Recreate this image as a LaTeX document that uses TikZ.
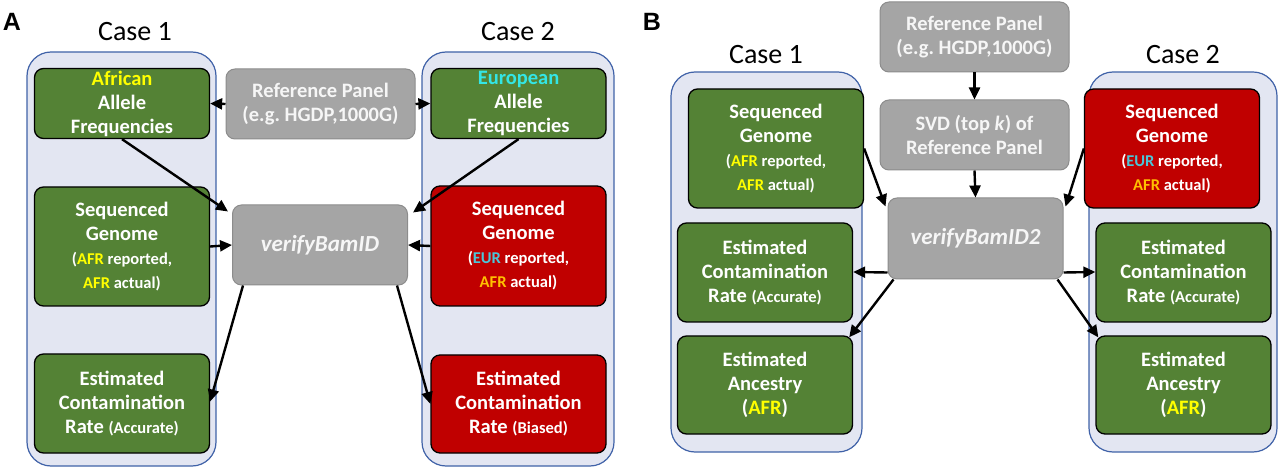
\documentclass[tikz,border=0pt]{standalone}
\usepackage{fontspec}
\setmainfont{Carlito}
\newfontfamily\labfont{Liberation Sans}
\usetikzlibrary{arrows.meta,calc}
\definecolor{gfill}{HTML}{548235}
\definecolor{rfill}{HTML}{C00000}
\definecolor{grayfill}{HTML}{A5A5A5}
\definecolor{grayline}{HTML}{8C8C8C}
\definecolor{contfill}{HTML}{E3E6F2}
\definecolor{contline}{HTML}{4062A8}
\definecolor{yel}{HTML}{FFFF00}
\definecolor{orng}{HTML}{FFC000}
\definecolor{turq}{HTML}{33E6E6}
\definecolor{eurc}{HTML}{4BC6D9}
\definecolor{softwhite}{HTML}{F6F6F6}
\newcommand\smtxt{\fontsize{16.5}{19}\selectfont}
\begin{document}
\begin{tikzpicture}[x=1pt,y=-1pt,
  box/.style={rounded corners=9pt, draw=black, line width=1.3pt, text=white,
    font=\bfseries\fontsize{20.5}{24}\selectfont\frenchspacing, align=flush center, inner sep=0pt, text width=175pt},
  gbox/.style={box, fill=gfill},
  rbox/.style={box, fill=rfill},
  graybox/.style={box, fill=grayfill, draw=grayline, line width=1pt, text=softwhite},
  vbox/.style={graybox, font=\bfseries\itshape\fontsize{23}{26}\selectfont},
  cont/.style={rounded corners=24pt, draw=contline, line width=1.2pt, fill=contfill},
  casetxt/.style={font=\fontsize{28}{32}\selectfont, inner sep=0pt},
  panel/.style={font=\labfont\bfseries\fontsize{25}{28}\selectfont, inner sep=0pt},
  arr/.style={-{Triangle[length=12pt,width=11pt]}, line width=2.4pt, black}
]
\useasboundingbox (0,0) rectangle (1280,470);

% ---------------- Panel A ----------------
\node[panel] (labA) at (12,22) {A};
\node[casetxt] (caseA1) at (135,32) {Case 1};
\node[casetxt] (caseA2) at (518,32) {Case 2};
\node[cont, minimum width=189pt, minimum height=414pt] (cA1) at (121.5,259) {};
\node[cont, minimum width=192pt, minimum height=414pt] (cA2) at (518,259) {};

\node[gbox, minimum width=140pt, minimum height=70pt] (afa) at (122,103.5)
  {\textcolor{yel}{African}\\Allele\\Frequencies};
\node[graybox, minimum width=189pt, minimum height=70pt] (refA) at (320.5,104)
  {Reference Panel\\(e.g. HGDP,1000G)};
\node[gbox, minimum width=139pt, minimum height=70pt] (eur) at (518.5,103.5)
  {\textcolor{turq}{European}\\Allele\\Frequencies};

\node[gbox, minimum width=140pt, minimum height=119pt] (seqA1) at (122,246.5)
  {Sequenced\\Genome\\[5pt]\smtxt(\textcolor{yel}{AFR} reported,\\\textcolor{yel}{AFR} actual)};
\node[vbox, minimum width=150pt, minimum height=80pt] (vbA) at (320,245) {verifyBamID};
\node[rbox, minimum width=139pt, minimum height=120pt] (seqA2) at (518.5,246)
  {Sequenced\\Genome\\[5pt]\smtxt(\textcolor{eurc}{EUR} reported,\\\textcolor{orng}{AFR} actual)};

\node[gbox, minimum width=162pt, minimum height=99pt] (estA1) at (122,403.5)
  {Estimated\\Contamination\\Rate {\smtxt(Accurate)}};
\node[rbox, minimum width=163pt, minimum height=98pt] (estA2) at (518.5,404)
  {Estimated\\Contamination\\Rate {\smtxt(Biased)}};

\draw[arr] (refA.west) -- (afa.east);
\draw[arr] (refA.east) -- (eur.west);
\draw[arr] (afa.south) -- ($(vbA.north west)+(-4,7)$);
\draw[arr] (eur.south) -- ($(vbA.north east)+(5,8)$);
\draw[arr] (seqA1.east) -- (vbA.west);
\draw[arr] (seqA2.west) -- (vbA.east);
\draw[arr] ($(vbA.south west)+(11,0)$) -- ($(estA1.east)+(0,-2)$);
\draw[arr] ($(vbA.south east)+(-11,0)$) -- (estA2.west);

% ---------------- Panel B ----------------
\node[panel] (labB) at (652,22) {B};
\node[casetxt] (caseB1) at (766,55) {Case 1};
\node[casetxt] (caseB2) at (1183,55) {Case 2};
\node[cont, minimum width=191pt, minimum height=380pt] (cB1) at (766.5,262) {};
\node[cont, minimum width=188pt, minimum height=380pt] (cB2) at (1183,262) {};

\node[graybox, minimum width=189pt, minimum height=70pt] (refB) at (974.5,37)
  {Reference Panel\\(e.g. HGDP,1000G)};
\node[graybox, minimum width=189pt, minimum height=70pt] (svd) at (974.5,135)
  {SVD (top \textit{k}) of\\Reference Panel};
\node[vbox, minimum width=165pt, minimum height=81pt] (vbB) at (975.5,238.5) {verifyBamID2};

\node[gbox, minimum width=140pt, minimum height=119pt] (seqB1) at (776,148.5)
  {Sequenced\\Genome\\[5pt]\smtxt(\textcolor{yel}{AFR} reported,\\\textcolor{yel}{AFR} actual)};
\node[rbox, minimum width=140pt, minimum height=119pt] (seqB2) at (1172,148.5)
  {Sequenced\\Genome\\[5pt]\smtxt(\textcolor{eurc}{EUR} reported,\\\textcolor{orng}{AFR} actual)};

\node[gbox, minimum width=162pt, minimum height=99pt] (estB1) at (765,272.5)
  {Estimated\\Contamination\\Rate {\smtxt(Accurate)}};
\node[gbox, minimum width=162pt, minimum height=98pt] (ancB1) at (765,385)
  {Estimated\\Ancestry\\(\textcolor{yel}{AFR})};
\node[gbox, minimum width=163pt, minimum height=99pt] (estB2) at (1183.5,272.5)
  {Estimated\\Contamination\\Rate {\smtxt(Accurate)}};
\node[gbox, minimum width=163pt, minimum height=98pt] (ancB2) at (1183.5,385)
  {Estimated\\Ancestry\\(\textcolor{yel}{AFR})};

\draw[arr] (refB.south) -- (svd.north);
\draw[arr] (svd.south) -- (vbB.north);
\draw[arr] (seqB1.east) -- ($(vbB.north west)+(-2,9)$);
\draw[arr] (seqB2.west) -- ($(vbB.north east)+(2,9)$);
\draw[arr] ($(vbB.south west)+(0,-7)$) -- ($(estB1.east)+(0,-0.5)$);
\draw[arr] ($(vbB.south east)+(0,-7)$) -- ($(estB2.west)+(0,-0.5)$);
\draw[arr] ($(vbB.south west)+(6,0)$) -- ($(ancB1.north east)+(-4,2)$);
\draw[arr] ($(vbB.south east)+(-6,0)$) -- ($(ancB2.north west)+(3,2)$);
\end{tikzpicture}
\end{document}
